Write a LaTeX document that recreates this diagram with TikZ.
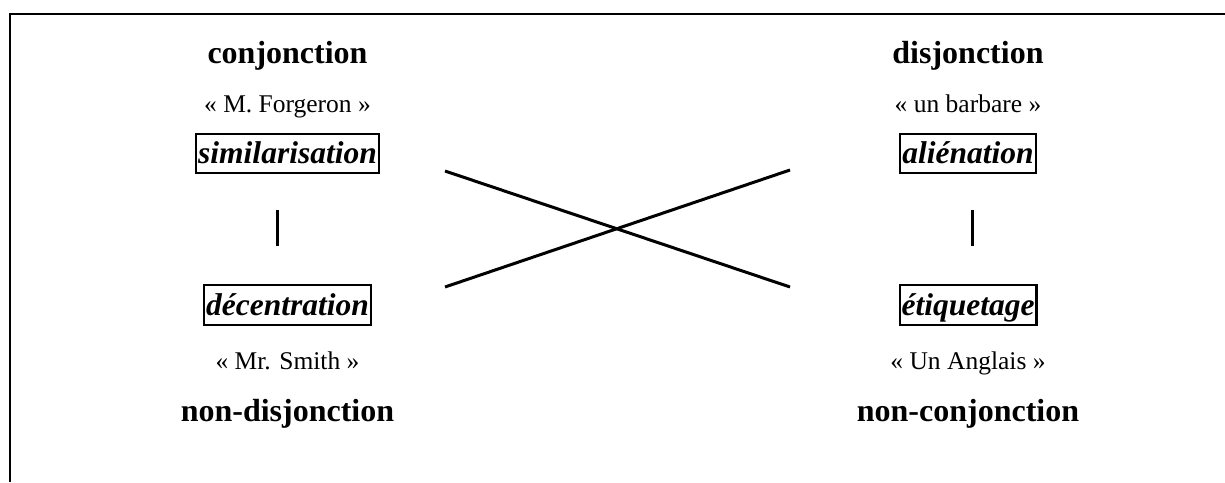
\documentclass[tikz,border=0pt]{standalone}
\usepackage{fontspec}
\setmainfont{Liberation Serif}
\begin{document}
\begin{tikzpicture}[x=1pt,y=-1pt,
  head/.style={anchor=base,inner sep=0pt,font=\fontsize{32}{38}\selectfont\bfseries},
  quote/.style={anchor=base,inner sep=0pt,font=\fontsize{25.5}{30}\selectfont},
  termbox/.style={draw,line width=2pt,inner xsep=2pt,inner ysep=2pt,
    text height=28pt,text depth=7.5pt,font=\fontsize{31.5}{36}\selectfont\bfseries\itshape},
  bar/.style={line width=3pt},
  cross/.style={line width=3pt}]
\useasboundingbox (0,0) rectangle (1225,482);
\draw[line width=2.2pt] (1225,14) -- (10,14) -- (10,482);
% left column
\node[head] (conj) at (287.5,63) {conjonction};
\node[quote] (forg) at (287.5,112.5) {« M. Forgeron »};
\node[termbox] (sim) at (287.5,153.7) {similarisation};
\node[termbox] (dec) at (287.5,305) {décentration};
\node[quote] (smith) at (287.5,369) {« Mr. Smith »};
\node[head] (ndis) at (287.5,421) {non-disjonction};
% right column
\node[head] (disj) at (968,63) {disjonction};
\node[quote] (barb) at (968,112) {« un barbare »};
\node[termbox] (alie) at (968,153.7) {aliénation};
\node[termbox] (etiq) at (968,305) {étiquetage};
\node[quote] (angl) at (968,369) {« Un Anglais »};
\node[head] (ncon) at (968,421) {non-conjonction};
% vertical bars
\draw[bar] ([xshift=-10.5pt,yshift=-36pt]sim.south) -- ([xshift=-10.5pt,yshift=38pt]dec.north);
\draw[bar] ([xshift=4.5pt,yshift=-36pt]alie.south) -- ([xshift=4.5pt,yshift=38pt]etiq.north);
% cross
\coordinate (tl) at (445,171);
\coordinate (bl) at (445,287);
\coordinate (tr) at (790,170);
\coordinate (br) at (790,287);
\draw[cross] (tl) -- (br);
\draw[cross] (bl) -- (tr);
\end{tikzpicture}
\end{document}
